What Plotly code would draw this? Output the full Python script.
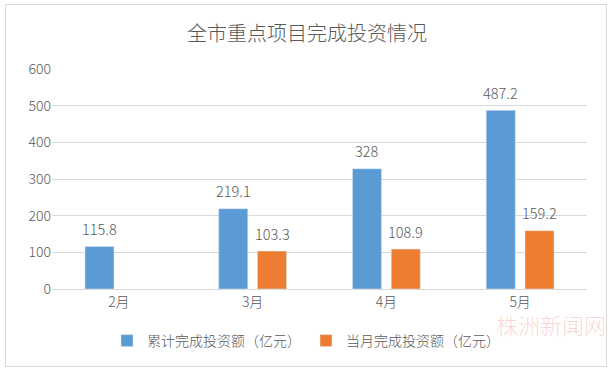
import plotly.graph_objects as go

categories = ["2月", "3月", "4月", "5月"]
cumulative = [115.8, 219.1, 328, 487.2]
monthly = [None, 103.3, 108.9, 159.2]
y_ticks = [0, 100, 200, 300, 400, 500, 600]
series_names = ["累计完成投资额（亿元）", "当月完成投资额（亿元）"]
title_text = "全市重点项目完成投资情况"

FONT = "Noto Sans CJK SC, Microsoft YaHei, sans-serif"
LABEL_COLOR = "#595959"
WEIGHT = 300

fig = go.Figure()
fig.add_trace(go.Bar(x=categories, y=cumulative, name=series_names[0],
                     marker_color="#5B9BD5", cliponaxis=False))
fig.add_trace(go.Bar(x=categories, y=monthly, name=series_names[1],
                     marker_color="#ED7D31", cliponaxis=False))

W, H = 614, 372
L, R, T, B = 52, 27, 69, 83
pw, ph = W - L - R, H - T - B

def px(x):
    return (x - L) / pw

def py(y):
    return (H - B - y) / ph

# data labels above bars, through the axes' own scales
annots = []
for series, shift in ((cumulative, -19.5), (monthly, 19.5)):
    for c, v in zip(categories, series):
        if v is None:
            continue
        annots.append(dict(x=c, y=v, xref="x", yref="y", text=f"{v:g}", showarrow=False,
                           xshift=shift, yshift=18, xanchor="center", yanchor="middle",
                           font=dict(size=14.5, color=LABEL_COLOR, family=FONT, weight=WEIGHT)))

annots.append(dict(text="株洲新闻网", xref="paper", yref="paper", x=px(551), y=py(324),
                   showarrow=False, font=dict(size=22, color="rgba(225,90,90,0.25)", family=FONT),
                   xanchor="center", yanchor="middle"))

fig.update_layout(
    width=W, height=H,
    margin=dict(l=L, r=R, t=T, b=B, autoexpand=False),
    paper_bgcolor="white", plot_bgcolor="white",
    font=dict(family=FONT, color=LABEL_COLOR, weight=WEIGHT),
    title=dict(text=title_text, x=307 / W, xref="container", xanchor="center",
               y=1 - 34 / H, yref="container", yanchor="middle",
               font=dict(size=20, color=LABEL_COLOR, family=FONT, weight=WEIGHT)),
    barmode="group", bargap=0.42, bargroupgap=0.25,
    showlegend=True,
    legend=dict(orientation="h", x=px(306), xanchor="center", y=py(341), yanchor="middle",
                font=dict(size=14, color=LABEL_COLOR, weight=WEIGHT), itemwidth=30,
                traceorder="normal"),
    xaxis=dict(showline=True, linecolor="#d9d9d9", linewidth=1, ticks="",
               tickfont=dict(size=14, color=LABEL_COLOR, weight=WEIGHT)),
    yaxis=dict(range=[0, 600], tickvals=y_ticks, showgrid=True, gridcolor="#d9d9d9",
               zeroline=False, showline=False, ticks="", ticklen=0,
               tickfont=dict(size=14, color=LABEL_COLOR, weight=WEIGHT)),
    shapes=[dict(type="rect", xref="paper", yref="paper",
                 x0=px(5.5), x1=px(606.5), y0=py(366.5), y1=py(4.5),
                 line=dict(color="#d9d9d9", width=1), fillcolor="rgba(0,0,0,0)", layer="below")],
    annotations=annots,
)

fig.write_html("out.html", config={"displayModeBar": False},
               post_script="document.body.style.margin='0';")
